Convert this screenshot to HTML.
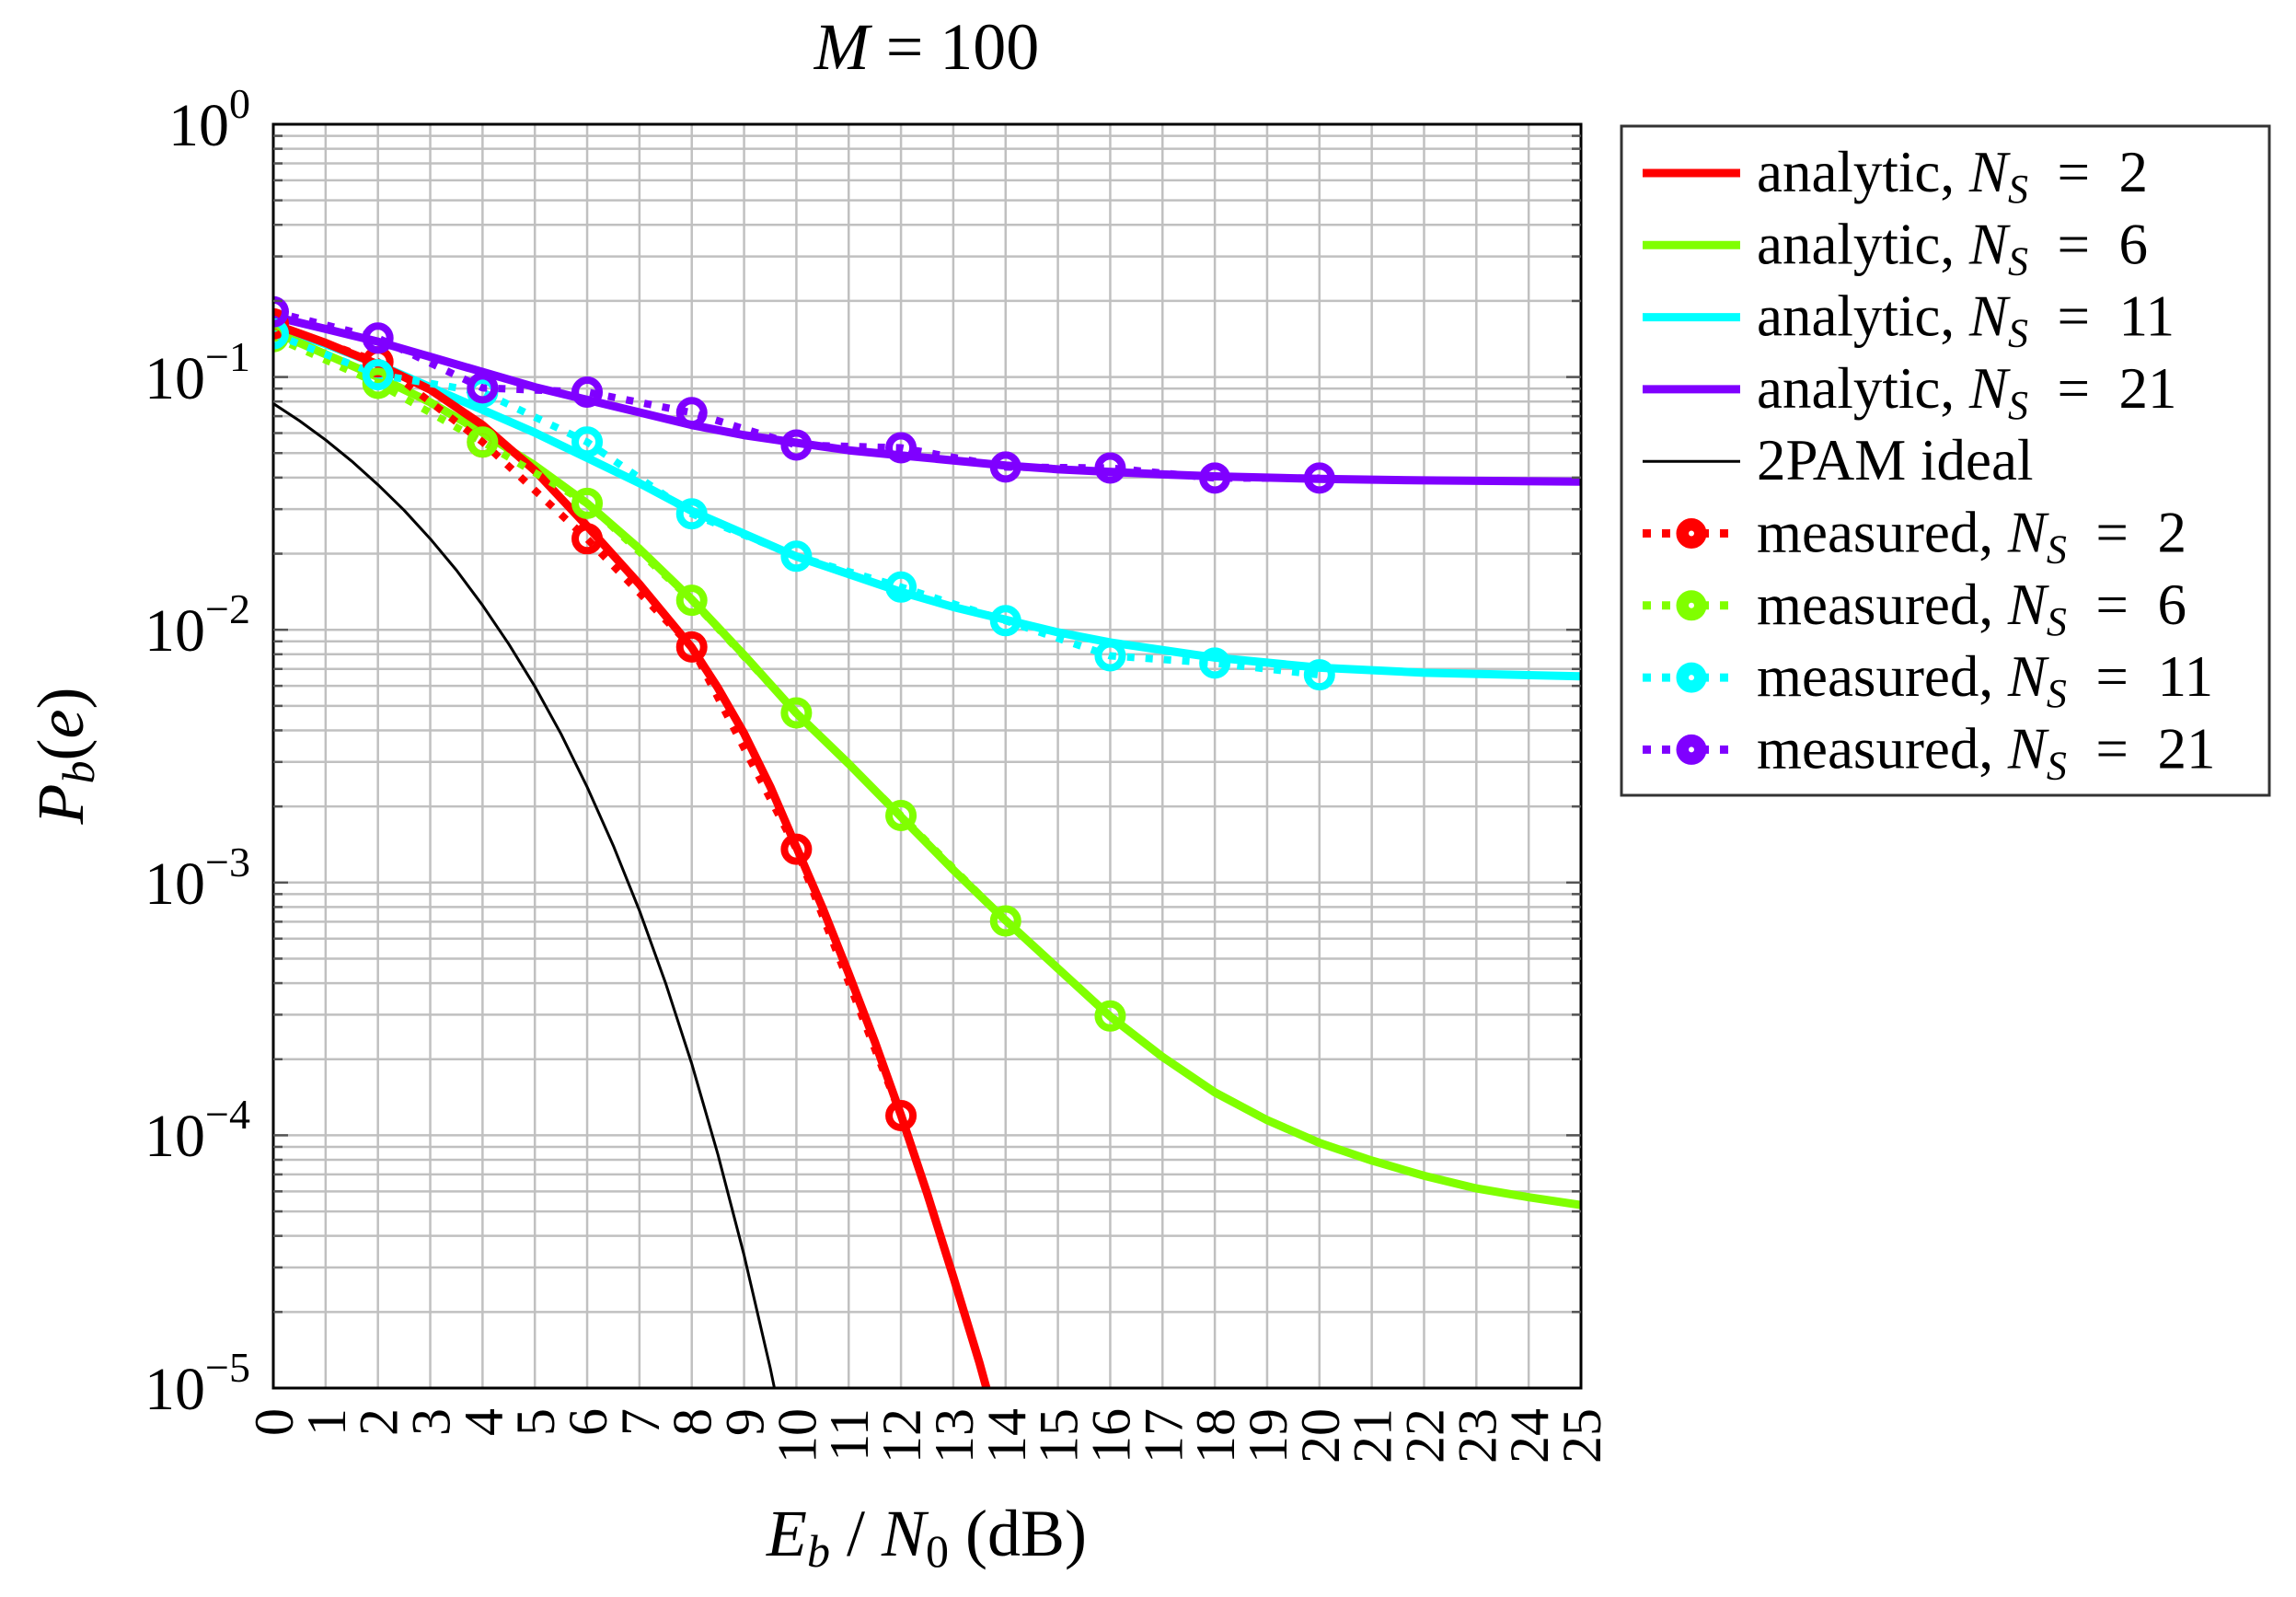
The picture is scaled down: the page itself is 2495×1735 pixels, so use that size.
<!DOCTYPE html>
<html><head><meta charset="utf-8"><style>
html,body{margin:0;padding:0;background:#fff;}
svg{display:block;}
text{font-family:"Liberation Serif",serif;fill:#000;}
</style></head><body>
<svg width="2495" height="1735" viewBox="0 0 2495 1735" xmlns="http://www.w3.org/2000/svg">
<defs><clipPath id="c"><rect x="297" y="135" width="1421" height="1373"/></clipPath></defs>
<rect width="2495" height="1735" fill="#fff"/>
<g id="grid" stroke="#c0c0c0" stroke-width="2.5"></g>
<g clip-path="url(#c)" fill="none" stroke-linejoin="round" stroke-linecap="butt">
 <g transform="translate(297,135) scale(56.84,274.6)">
  <polyline vector-effect="non-scaling-stroke" stroke="#000" stroke-width="3" points="0,1.105 0.5,1.173 1,1.249 1.5,1.333 2,1.426 2.5,1.527 3,1.640 3.5,1.764 4,1.903 4.5,2.056 5,2.224 5.5,2.412 6,2.622 6.5,2.854 7,3.111 7.5,3.398 8,3.717 8.5,4.076 9,4.474 9.5,4.92 9.6,5.02"/>
  <polyline vector-effect="non-scaling-stroke" stroke="#7f00ff" stroke-width="9" points="0,0.76 1,0.81 2,0.86 3,0.92 4,0.98 5,1.04 6,1.09 7,1.14 8,1.19 9,1.23 10,1.26 11,1.29 12,1.31 13,1.33 14,1.35 15,1.365 16,1.375 17,1.385 18,1.393 20,1.403 22,1.409 25,1.414"/>
  <polyline vector-effect="non-scaling-stroke" stroke="#00ffff" stroke-width="9" points="0,0.80 1,0.87 2,0.95 3,1.04 4,1.13 5,1.22 6,1.32 7,1.42 8,1.53 9,1.62 10,1.71 11,1.78 12,1.85 13,1.91 14,1.96 15,2.01 16,2.05 17,2.08 18,2.11 19,2.13 20,2.15 22,2.17 25,2.184"/>
  <polyline vector-effect="non-scaling-stroke" stroke="#80ff00" stroke-width="9" points="0,0.82 1,0.91 2,1.0 3,1.1 4,1.22 5,1.35 6,1.5 7,1.68 8,1.88 9,2.1 10,2.33 11,2.53 12,2.74 13,2.95 14,3.15 15,3.34 16,3.53 17,3.69 18,3.83 19,3.94 20,4.03 21,4.10 22,4.16 23,4.21 24,4.245 25,4.276"/>
  <polyline vector-effect="non-scaling-stroke" stroke="#ff0000" stroke-width="9" points="0,0.79 1,0.865 2,0.95 3,1.05 4,1.19 5,1.37 6,1.59 7,1.82 8,2.07 8.5,2.23 9,2.41 9.5,2.62 10,2.86 10.5,3.1 11,3.36 11.5,3.63 12,3.92 12.5,4.23 13,4.56 13.5,4.9 13.7,5.05"/>
 </g>
 <g stroke-width="8" stroke-dasharray="8 12">
  <polyline stroke="#ff0000" points="297,351.9 410.7,393.1 524.4,480.2 638,585.3 751.7,702.9 865.4,922.6 979.1,1212"/>
  <polyline stroke="#80ff00" points="297,365.7 410.7,416.5 524.4,480.2 638,546.9 751.7,652.1 865.4,774.5 979.1,886 1092.8,1000.5 1206.4,1103.8"/>
  <polyline stroke="#00ffff" points="297,362.6 410.7,407.1 524.4,426 638,480.2 751.7,558.2 865.4,604.3 979.1,637.8 1092.8,674.3 1206.4,712.5 1320.1,720.4 1433.8,733.1"/>
  <polyline stroke="#7f00ff" points="297,338.8 410.7,367.3 524.4,421.4 638,426 751.7,448.3 865.4,483.5 979.1,486.5 1092.8,507.4 1206.4,508.5 1320.1,519.4 1433.8,519.4"/>
 </g>
 <g id="marks" stroke-width="8"></g>
</g>
<rect x="297" y="135" width="1421" height="1373" fill="none" stroke="#000" stroke-width="3"/>
<g id="ticks"></g>
<g font-size="66" text-anchor="end">
 <text x="272" y="158">10<tspan font-size="46" dy="-30">0</tspan></text>
 <text x="272" y="433">10<tspan font-size="46" dy="-30">−1</tspan></text>
 <text x="272" y="707">10<tspan font-size="46" dy="-30">−2</tspan></text>
 <text x="272" y="982">10<tspan font-size="46" dy="-30">−3</tspan></text>
 <text x="272" y="1256">10<tspan font-size="46" dy="-30">−4</tspan></text>
 <text x="272" y="1531">10<tspan font-size="46" dy="-30">−5</tspan></text>
</g>
<g id="xl" font-size="60" text-anchor="end"></g>
<text x="1007" y="75" font-size="72" text-anchor="middle"><tspan font-style="italic">M</tspan> = 100</text>
<text x="1007" y="1690" font-size="72" text-anchor="middle"><tspan font-style="italic">E</tspan><tspan font-style="italic" font-size="50" dy="12">b</tspan><tspan dy="-12"> / </tspan><tspan font-style="italic">N</tspan><tspan font-size="50" dy="12">0</tspan><tspan dy="-12"> (dB)</tspan></text>
<text transform="translate(90,821) rotate(-90)" font-size="72" text-anchor="middle"><tspan font-style="italic">P</tspan><tspan font-style="italic" font-size="50" dy="12">b</tspan><tspan dy="-12">(</tspan><tspan font-style="italic">e</tspan>)</text>
<rect x="1762" y="137" width="704" height="727" fill="#fff" stroke="#333" stroke-width="3"/>
<g id="leg" font-size="63"></g>
<script>
var NS="http://www.w3.org/2000/svg";
function el(p,t,a,txt){var e=document.createElementNS(NS,t);for(var k in a)e.setAttribute(k,a[k]);if(txt!==undefined)e.textContent=txt;p.appendChild(e);return e;}
var g=document.getElementById('grid'),tk=document.getElementById('ticks'),xl=document.getElementById('xl');
for(var d=1;d<25;d++){var x=297+56.84*d;el(g,'line',{x1:x,x2:x,y1:135,y2:1508});}
for(var dec=0;dec<5;dec++){for(var m=1;m<=9;m++){var y=135+274.6*(dec+1-Math.log10(m));
 if(y>1507||y<136)continue;el(g,'line',{x1:297,x2:1718,y1:y,y2:y});
 el(tk,'line',{x1:297,x2:m==1?313:307,y1:y,y2:y,stroke:'#555','stroke-width':2.5});el(tk,'line',{x1:1718,x2:m==1?1702:1708,y1:y,y2:y,stroke:'#555','stroke-width':2.5});}}
for(var d=0;d<=25;d++){var x=297+56.84*d;el(xl,'text',{transform:'translate('+(x+21)+',1530) rotate(-90)'},String(d));}
var mk=document.getElementById('marks');
var S={'#ff0000':[[0,351.9],[2,393.1],[4,480.2],[6,585.3],[8,702.9],[10,922.6],[12,1212]],
'#80ff00':[[0,365.7],[2,416.5],[4,480.2],[6,546.9],[8,652.1],[10,774.5],[12,886],[14,1000.5],[16,1103.8]],
'#00ffff':[[0,362.6],[2,407.1],[4,426],[6,480.2],[8,558.2],[10,604.3],[12,637.8],[14,674.3],[16,712.5],[18,720.4],[20,733.1]],
'#7f00ff':[[0,338.8],[2,367.3],[4,421.4],[6,426],[8,448.3],[10,483.5],[12,486.5],[14,507.4],[16,508.5],[18,519.4],[20,519.4]]};
for(var c in S)S[c].forEach(function(p){el(mk,'circle',{cx:297+56.84*p[0],cy:p[1],r:13,stroke:c,fill:'none'});});
var L=document.getElementById('leg');
var rows=[['#ff0000','analytic','2',0],['#80ff00','analytic','6',0],['#00ffff','analytic','11',0],['#7f00ff','analytic','21',0],['#000','2PAM','',2],['#ff0000','measured','2',1],['#80ff00','measured','6',1],['#00ffff','measured','11',1],['#7f00ff','measured','21',1]];
rows.forEach(function(r,i){var y=188+78.3*i;
 if(r[3]==0)el(L,'line',{x1:1785,x2:1891,y1:y,y2:y,stroke:r[0],'stroke-width':9});
 else if(r[3]==2)el(L,'line',{x1:1785,x2:1891,y1:y,y2:y,stroke:'#000','stroke-width':3});
 else{el(L,'line',{x1:1785,x2:1882,y1:y,y2:y,stroke:r[0],'stroke-width':9,'stroke-dasharray':'9 12'});el(L,'circle',{cx:1838,cy:y,r:13,fill:r[0],stroke:r[0],'stroke-width':7});el(L,'circle',{cx:1838,cy:y,r:3,fill:'#fff'});}
 var t=el(L,'text',{x:1909,y:y+20});
 if(r[3]==2){t.textContent='2PAM ideal';}
 else{t.appendChild(document.createTextNode(r[1]+', '));el(t,'tspan',{'font-style':'italic'},'N');el(t,'tspan',{'font-style':'italic','font-size':44,dy:12},'S');el(t,'tspan',{dy:-12},'\u2002=\u2002'+r[2]);}
});
</script>
</svg>
</body></html>
